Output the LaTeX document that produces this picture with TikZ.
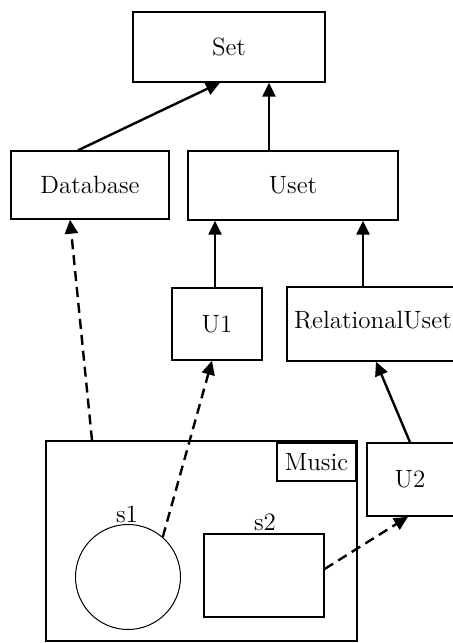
\documentclass[tikz,border=0pt]{standalone}
\usetikzlibrary{arrows.meta}
\begin{document}
\begin{tikzpicture}[x=0.5pt,y=-0.5pt,
  every node/.style={font=\fontsize{12.5}{15}\selectfont},
  box/.style={draw, line width=0.7pt, rectangle, inner sep=0pt},
  inh/.style={line width=1.2pt, -{Triangle[length=7pt,width=6.5pt]}},
  dep/.style={inh, dash pattern=on 5pt off 3pt},
  lbl/.style={inner sep=1pt}]
\clip (0,0) rectangle (453,643);

% class boxes
\node[box, minimum width=96pt, minimum height=35pt] (set) at (229,47) {Set};
\node[box, minimum width=79pt, minimum height=34pt] (db) at (90,185) {Database};
\node[box, minimum width=105pt, minimum height=34.5pt] (uset) at (293,185.5) {Uset};
\node[box, minimum width=45pt, minimum height=36pt] (u1) at (217,324) {U1};
\node[box, minimum width=89pt, minimum height=37pt,
      label={[xshift=-1.5pt, yshift=2pt]center:RelationalUset}] (rel) at (376,324) {};
\node[box, minimum width=49pt, minimum height=36.5pt,
      label={[xshift=-3pt]center:U2}] (u2) at (416,479.5) {};

% the Music package with its parts
\node[box, minimum width=155.5pt, minimum height=100pt] (music) at (201.5,541) {};
\node[box, minimum width=39.5pt, minimum height=19pt] (tag) at (316.5,462) {Music};
\node[draw, line width=0.5pt, circle, minimum size=52.5pt, inner sep=0pt] (s1) at (128,577) {};
\node[box, line width=0.6pt, minimum width=60pt, minimum height=41.5pt] (s2) at (264,575.5) {};
\node[lbl, anchor=south] (s1l) at (127,525) {s1};
\node[lbl, anchor=south] (s2l) at (265,533) {s2};

% generalisations
\draw[inh] ([xshift=-6pt]db.north) -- ([xshift=-4.5pt]set.south);
\draw[inh] ([xshift=-12pt]uset.north) -- ([xshift=-12pt]uset.north |- set.south);
\draw[inh] ([xshift=-1pt]u1.north) -- ([xshift=-1pt]u1.north |- uset.south);
\draw[inh] ([xshift=-6.5pt]rel.north) -- ([xshift=-6.5pt]rel.north |- uset.south);
\draw[inh] ([xshift=-3pt]u2.north) -- ([xshift=0pt]rel.south);

% realisations
\draw[dep] ([xshift=-54.75pt]music.north) -- ([xshift=-10pt]db.south);
\draw[dep] (s1.49) -- ([xshift=-2.5pt]u1.south);
\draw[dep] ([yshift=3.25pt]s2.east) -- ([xshift=-4pt]u2.south);
\end{tikzpicture}
\end{document}
